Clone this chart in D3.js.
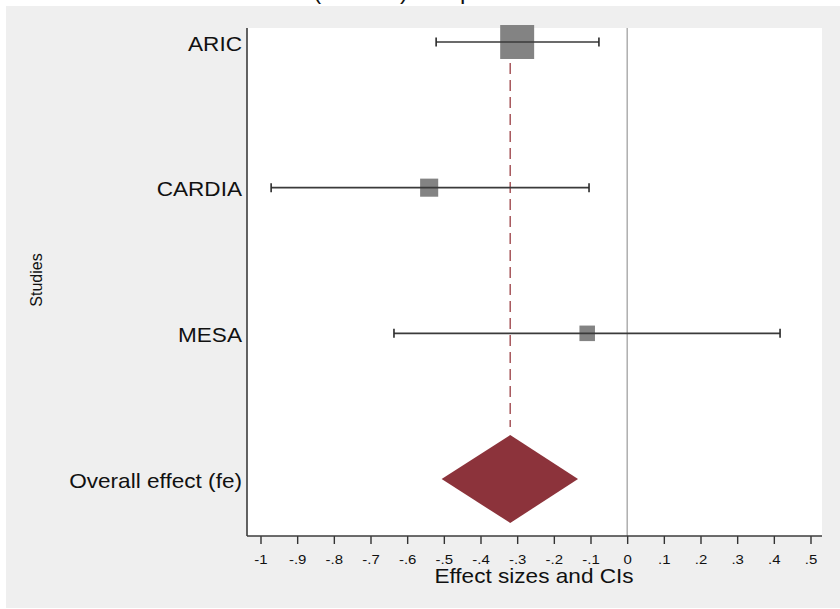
<!DOCTYPE html>
<html>
<head>
<meta charset="utf-8">
<script src="https://cdn.jsdelivr.net/npm/d3@7"></script>
<style>
  html, body { margin: 0; padding: 0; background: #ffffff; }
  svg { display: block; }
  text { font-family: "Liberation Sans", Arial, sans-serif; fill: #111; }
</style>
</head>
<body>
<div id="chart"></div>
<script>
// ---- data ----
const studies = ["ARIC", "CARDIA", "MESA"];
const effects = [-0.300, -0.540, -0.109];
const lowerCI = [-0.521, -0.971, -0.636];
const upperCI = [-0.077, -0.104, 0.417];
const weights = [67, 19, 14];
const overallLabel = "Overall effect (fe)";
const overallEffect = -0.319;
const overallLower = -0.506;
const overallUpper = -0.134;
const tickValues = [-1, -0.9, -0.8, -0.7, -0.6, -0.5, -0.4, -0.3, -0.2, -0.1, 0, 0.1, 0.2, 0.3, 0.4, 0.5];
const tickLabels = ["-1", "-.9", "-.8", "-.7", "-.6", "-.5", "-.4", "-.3", "-.2", "-.1", "0", ".1", ".2", ".3", ".4", ".5"];
const titleText = "Pooled effect (NAFLD) comparison";
const xTitle = "Effect sizes and CIs";
const yTitle = "Studies";

// ---- layout ----
const W = 840, H = 609;
const plot = { left: 247, right: 822, top: 28, bottom: 536 };

const svg = d3.select("#chart").append("svg").attr("width", W).attr("height", H);

svg.append("rect").attr("x", 6).attr("y", 6).attr("width", W - 6).attr("height", H - 7).attr("fill", "#efefef");
svg.append("rect").attr("x", plot.left).attr("y", plot.top)
  .attr("width", plot.right - plot.left).attr("height", plot.bottom - plot.top).attr("fill", "#ffffff");

// title (cut off at the top of the frame, as in the reference: only descenders show)
svg.append("text").attr("x", 167).attr("y", -1.5).attr("text-anchor", "start")
  .attr("font-size", 24).text(titleText);

const x = d3.scaleLinear().domain([-1, 0.5]).range([260.5, 810.5]);
const rows = studies.concat([overallLabel]);
const y = d3.scaleLinear().domain([0, rows.length - 1]).range([42, 479]);
const side = d3.scaleSqrt().domain([0, 100]).range([0, 41.5]);

// zero line
svg.append("line").attr("x1", x(0)).attr("x2", x(0)).attr("y1", plot.top).attr("y2", plot.bottom)
  .attr("stroke", "#9a9a9a").attr("stroke-width", 1.2);

// overall dashed line
svg.append("line").attr("x1", x(overallEffect)).attr("x2", x(overallEffect))
  .attr("y1", y(0) + 4).attr("y2", y(3) - 52)
  .attr("stroke", "#a04a4f").attr("stroke-width", 1.4).attr("stroke-dasharray", "11,6");

// study boxes
const g = svg.append("g");
studies.forEach((s, i) => {
  const sz = side(weights[i]);
  g.append("rect").attr("x", x(effects[i]) - sz / 2).attr("y", y(i) - sz / 2)
    .attr("width", sz).attr("height", sz).attr("fill", "#838383");
  g.append("line").attr("x1", x(lowerCI[i])).attr("x2", x(upperCI[i]))
    .attr("y1", y(i)).attr("y2", y(i)).attr("stroke", "#3a3a3a").attr("stroke-width", 1.6);
  [lowerCI[i], upperCI[i]].forEach(v => {
    g.append("line").attr("x1", x(v)).attr("x2", x(v)).attr("y1", y(i) - 4.5).attr("y2", y(i) + 4.5)
      .attr("stroke", "#2a2a2a").attr("stroke-width", 1.6);
  });
});

// overall diamond
const oy = y(3);
svg.append("path")
  .attr("d", `M${x(overallLower)},${oy} L${x(overallEffect)},${oy - 44} L${x(overallUpper)},${oy} L${x(overallEffect)},${oy + 44} Z`)
  .attr("fill", "#8c333b");

// row labels
rows.forEach((r, i) => {
  svg.append("text").attr("transform", `translate(242,${y(i) + 8.5}) scale(1.13,1)`)
    .attr("text-anchor", "end").attr("font-size", 20).text(r);
});

// axes
const xAxis = d3.axisBottom(x).tickValues(tickValues).tickSize(8).tickPadding(4)
  .tickFormat((d, i) => tickLabels[i]);
const ax = svg.append("g").attr("transform", `translate(0,${plot.bottom})`).call(xAxis);
ax.select(".domain").remove();
ax.selectAll(".tick line").attr("stroke", "#333").attr("stroke-width", 1.4);
ax.selectAll(".tick text").attr("font-size", 13).attr("fill", "#111")
  .attr("font-family", "Liberation Sans, Arial, sans-serif")
  .attr("y", 0).attr("dy", 0)
  .attr("transform", "translate(0,28) scale(1.15,1)");

svg.append("line").attr("x1", plot.left).attr("x2", plot.right).attr("y1", plot.bottom).attr("y2", plot.bottom)
  .attr("stroke", "#3c3c3c").attr("stroke-width", 1.6);
svg.append("line").attr("x1", plot.left).attr("x2", plot.left).attr("y1", plot.top).attr("y2", plot.bottom)
  .attr("stroke", "#3c3c3c").attr("stroke-width", 1.6);

svg.append("text").attr("transform", `translate(534,583) scale(1.13,1)`).attr("text-anchor", "middle")
  .attr("font-size", 20).text(xTitle);

svg.append("text").attr("transform", "translate(42,280) rotate(-90)").attr("text-anchor", "middle")
  .attr("font-size", 16).text(yTitle);
</script>
</body>
</html>
